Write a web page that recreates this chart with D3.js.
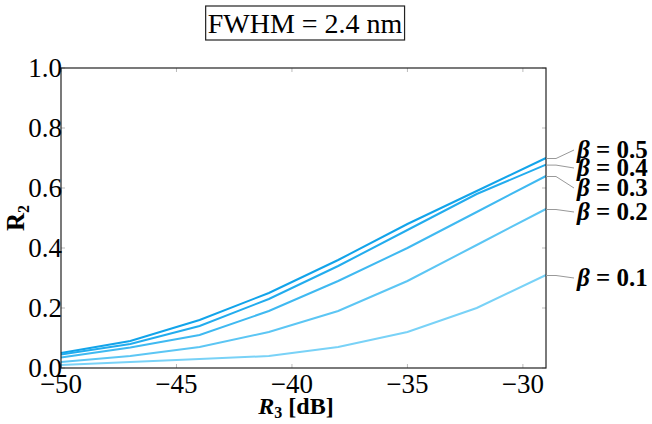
<!DOCTYPE html>
<html>
<head>
  <meta charset="utf-8">
  <title>R2 vs R3</title>
  <style>
    body { margin: 0; background: #fff; }
    text { font-family: "Liberation Serif", "Times New Roman", serif; }
  </style>
</head>
<body>
  <div id="chart"></div>
  <script src="https://d3js.org/d3.v7.min.js"></script>
  <script>
    const r3 = [-50, -47, -44, -41, -38, -35, -32, -29];
    const betas = ["0.5", "0.4", "0.3", "0.2", "0.1"];
    const b05 = [0.050, 0.090, 0.160, 0.250, 0.360, 0.480, 0.590, 0.700];
    const b04 = [0.045, 0.080, 0.140, 0.230, 0.340, 0.460, 0.580, 0.678];
    const b03 = [0.035, 0.068, 0.110, 0.190, 0.290, 0.400, 0.520, 0.640];
    const b02 = [0.020, 0.040, 0.070, 0.120, 0.190, 0.290, 0.410, 0.530];
    const b01 = [0.010, 0.020, 0.030, 0.040, 0.070, 0.120, 0.200, 0.310];
    const xTicks = [-50, -45, -40, -35, -30];
    const yTicks = [0, 0.2, 0.4, 0.6, 0.8, 1.0];
    const colors = ["#12a4ea", "#22acee", "#3fb9f1", "#5cc6f4", "#79d2f7"];
    const labelY = [150, 168, 188, 212, 278];

    const series = [b05, b04, b03, b02, b01];

    const width = 652, height = 424;
    const margin = {top: 68, right: 106, bottom: 56, left: 61};

    const svg = d3.select("#chart").append("svg")
      .attr("width", width)
      .attr("height", height);

    const x = d3.scaleLinear().domain([-50, -29]).range([margin.left, width - margin.right]);
    const y = d3.scaleLinear().domain([0, 1]).range([height - margin.bottom, margin.top]);

    // title box
    const title = svg.append("text")
      .attr("x", 305).attr("y", 33)
      .attr("text-anchor", "middle")
      .attr("font-size", 28)
      .text("FWHM = 2.4 nm");
    const bb = title.node().getBBox();
    svg.append("rect")
      .attr("x", bb.x - 2).attr("y", 6)
      .attr("width", bb.width + 4).attr("height", 34)
      .attr("fill", "none").attr("stroke", "#222").attr("stroke-width", 1.2);

    // faint inner ticks
    const tk = svg.append("g").attr("stroke", "#bbb").attr("stroke-width", 1);
    xTicks.forEach(t => {
      tk.append("line").attr("x1", x(t)).attr("x2", x(t)).attr("y1", y(0)).attr("y2", y(0) - 4);
      tk.append("line").attr("x1", x(t)).attr("x2", x(t)).attr("y1", y(1)).attr("y2", y(1) + 4);
    });
    yTicks.forEach(t => {
      tk.append("line").attr("x1", x(-50)).attr("x2", x(-50) + 4).attr("y1", y(t)).attr("y2", y(t));
      tk.append("line").attr("x1", x(-29)).attr("x2", x(-29) - 4).attr("y1", y(t)).attr("y2", y(t));
    });

    // lines
    const line = d3.line().x((d, i) => x(r3[i])).y(d => y(d));
    svg.append("g")
      .selectAll("path")
      .data(series)
      .join("path")
      .attr("d", line)
      .attr("fill", "none")
      .attr("stroke", (d, i) => colors[i])
      .attr("stroke-width", 2);

    // frame
    svg.append("rect")
      .attr("x", x(-50)).attr("y", y(1))
      .attr("width", x(-29) - x(-50)).attr("height", y(0) - y(1))
      .attr("fill", "none").attr("stroke", "#222").attr("stroke-width", 1.2);

    // tick labels
    svg.append("g")
      .attr("font-size", 27)
      .attr("text-anchor", "middle")
      .selectAll("text")
      .data(xTicks)
      .join("text")
      .attr("x", d => x(d))
      .attr("y", y(0) + 25)
      .text(d => "\u2212" + Math.abs(d));

    svg.append("g")
      .attr("font-size", 27)
      .attr("text-anchor", "end")
      .selectAll("text")
      .data(yTicks)
      .join("text")
      .attr("x", x(-50) + 1)
      .attr("y", d => y(d) + 9)
      .text(d => d.toFixed(1));

    // axis titles
    const xl = svg.append("text")
      .attr("x", 296).attr("y", 414)
      .attr("text-anchor", "middle")
      .attr("font-size", 24)
      .attr("font-weight", "bold");
    xl.append("tspan").attr("font-style", "italic").text("R");
    xl.append("tspan").attr("font-size", 16).attr("dy", 4).text("3");
    xl.append("tspan").attr("dy", -4).text(" [dB]");

    const yl = svg.append("text")
      .attr("transform", "translate(24,218) rotate(-90)")
      .attr("text-anchor", "middle")
      .attr("font-size", 25)
      .attr("font-weight", "bold");
    yl.append("tspan").text("R");
    yl.append("tspan").attr("font-size", 16).attr("dy", 5).text("2");

    // labels with leader lines
    const lab = svg.append("g");
    series.forEach((s, i) => {
      const x0 = x(r3[r3.length - 1]);
      const y0 = y(s[s.length - 1]);
      lab.append("path")
        .attr("d", `M${x0},${y0 + 0.5} L${x0 + 10},${y0 + 0.5} L${574},${labelY[i]}`)
        .attr("fill", "none").attr("stroke", "#999").attr("stroke-width", 1);
      const t = lab.append("text")
        .attr("x", 577).attr("y", labelY[i] + 8)
        .attr("font-size", 25)
        .attr("font-weight", "bold");
      t.append("tspan").attr("font-style", "italic").text("\u03B2");
      t.append("tspan").text(" = " + betas[i]);
    });
  </script>
</body>
</html>
